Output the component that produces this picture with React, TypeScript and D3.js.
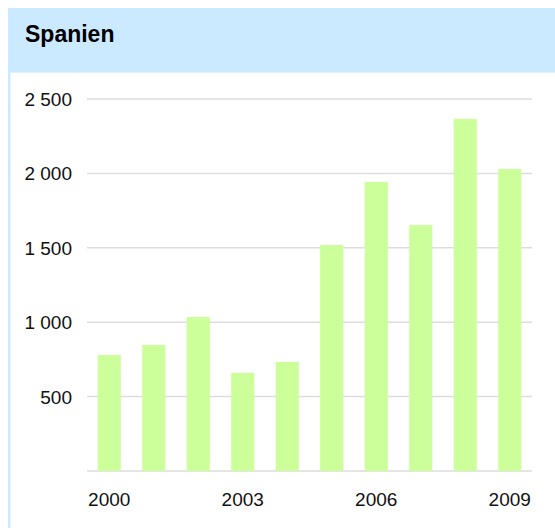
import React, { useEffect, useRef } from 'react';
import * as d3 from 'd3';

// Spanien, 2000-2009
const years = ['2000', '2001', '2002', '2003', '2004', '2005', '2006', '2007', '2008', '2009'];
const values = [780, 847, 1035, 659, 733, 1519, 1942, 1653, 2366, 2030];
const yTicks = [0, 500, 1000, 1500, 2000, 2500];
const xLabels = ['2000', '2003', '2006', '2009'];

const W = 555;
const H = 528;

const App = () => {
  const ref = useRef<SVGSVGElement>(null);

  useEffect(() => {
    const svg = d3.select(ref.current);
    svg.selectAll('*').remove();

    const left = 87;
    const right = 532;
    const top = 99;
    const bottom = 471;

    // panel frame
    svg.append('rect')
      .attr('x', 8).attr('y', 8)
      .attr('width', W - 8).attr('height', 64.7)
      .attr('fill', '#cceaff');
    svg.append('rect')
      .attr('x', 8).attr('y', 8)
      .attr('width', 2.5).attr('height', H - 8)
      .attr('fill', '#cceaff');

    svg.append('text')
      .attr('x', 25).attr('y', 42)
      .attr('font-family', 'Liberation Sans, Arial, sans-serif')
      .attr('font-size', 23)
      .attr('font-weight', 'bold')
      .attr('fill', '#000')
      .text('Spanien');

    const x = d3.scaleBand<string>()
      .domain(years)
      .range([left, right])
      .paddingInner(0.48)
      .paddingOuter(0.24);

    const y = d3.scaleLinear()
      .domain([0, 2500])
      .range([bottom, top]);

    const fmt = d3.formatLocale({ decimal: ',', thousands: '\u00a0', grouping: [3], currency: ['', ' €'] }).format(',d');

    const grid = svg.append('g');
    grid.selectAll('line')
      .data(yTicks)
      .enter().append('line')
      .attr('x1', left).attr('x2', right)
      .attr('y1', d => y(d)).attr('y2', d => y(d))
      .attr('stroke', '#dddddd')
      .attr('stroke-width', 1.5);

    svg.append('g').selectAll('text')
      .data(yTicks.filter(d => d > 0))
      .enter().append('text')
      .attr('x', 72)
      .attr('y', d => y(d) + 7)
      .attr('text-anchor', 'end')
      .attr('font-family', 'Liberation Sans, Arial, sans-serif')
      .attr('font-size', 19)
      .attr('fill', '#111')
      .text(d => fmt(d));

    svg.append('g').selectAll('rect')
      .data(values)
      .enter().append('rect')
      .attr('x', (d, i) => x(years[i]) as number)
      .attr('y', d => y(d))
      .attr('width', x.bandwidth())
      .attr('height', d => y(0) - y(d))
      .attr('fill', '#ccff99');

    svg.append('g').selectAll('text')
      .data(xLabels)
      .enter().append('text')
      .attr('x', d => (x(d) as number) + x.bandwidth() / 2)
      .attr('y', 506)
      .attr('text-anchor', 'middle')
      .attr('font-family', 'Liberation Sans, Arial, sans-serif')
      .attr('font-size', 19)
      .attr('fill', '#111')
      .text(d => d);
  }, []);

  return (
    <svg
      ref={ref}
      width={W}
      height={H}
      style={{ position: 'absolute', left: 0, top: 0, background: '#fff' }}
    />
  );
};

export default App;
